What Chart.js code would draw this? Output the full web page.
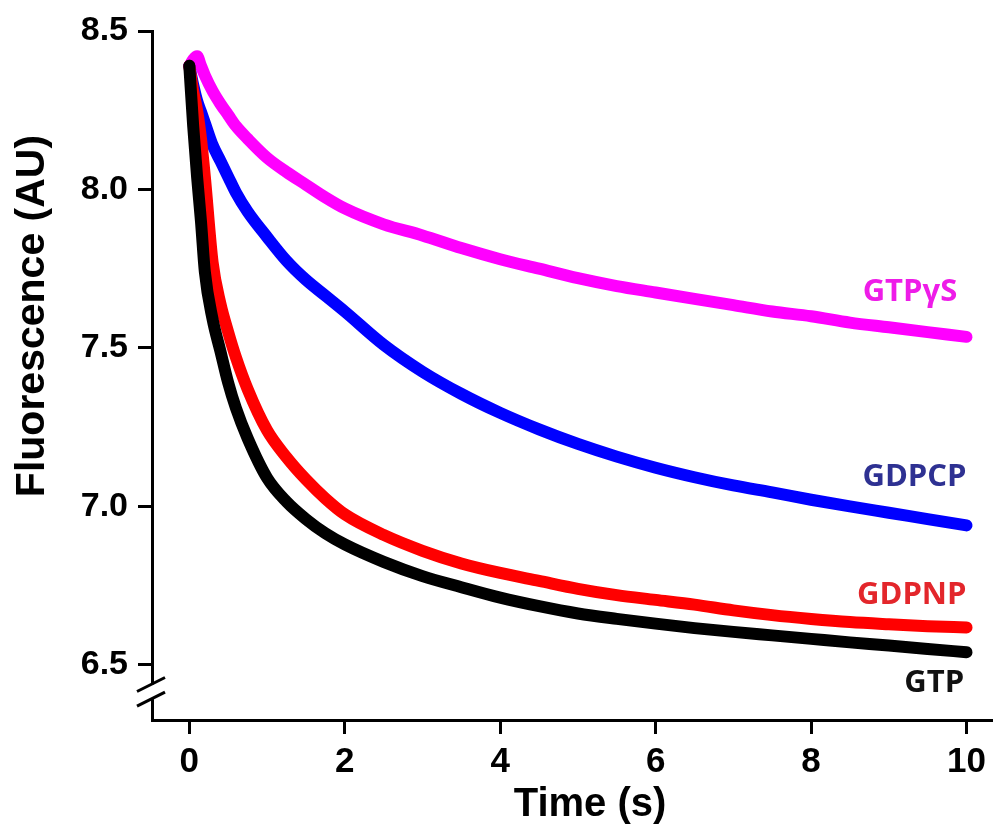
<!DOCTYPE html>
<html>
<head>
<meta charset="utf-8">
<script src="https://cdn.jsdelivr.net/npm/chart.js@4.4.0/dist/chart.umd.min.js"></script>
<style>
  body { margin: 0; background: #fff; }
  #wrap { width: 993px; height: 825px; }
</style>
</head>
<body>
<div id="wrap"><canvas id="kinetics" width="993" height="825"></canvas></div>
<script>
// time points (s)
const time = [0, 0.05, 0.1, 0.15, 0.2, 0.3, 0.4, 0.5, 0.6, 0.75, 1, 1.25, 1.5, 1.75, 2,
              2.5, 3, 3.5, 4, 4.5, 5, 5.5, 6, 6.5, 7, 7.5, 8, 8.5, 9, 9.5, 10];

// fluorescence (AU)
const gtpgs = [8.39, 8.41, 8.42, 8.39, 8.36, 8.31, 8.27, 8.235, 8.20, 8.16, 8.10, 8.055, 8.015, 7.975, 7.94,
               7.89, 7.855, 7.815, 7.78, 7.75, 7.72, 7.695, 7.675, 7.655, 7.635, 7.615, 7.60, 7.58, 7.565, 7.55, 7.535];
const gdpcp = [8.39, 8.33, 8.28, 8.245, 8.21, 8.14, 8.09, 8.04, 7.99, 7.93, 7.85, 7.775, 7.715, 7.665, 7.615,
               7.51, 7.425, 7.355, 7.295, 7.243, 7.197, 7.157, 7.122, 7.092, 7.066, 7.044, 7.021, 7.00, 6.98, 6.96, 6.94];
const gdpnp = [8.39, 8.31, 8.25, 8.16, 8.04, 7.77, 7.64, 7.55, 7.47, 7.37, 7.24, 7.155, 7.085, 7.025, 6.975,
               6.91, 6.86, 6.82, 6.79, 6.765, 6.74, 6.72, 6.705, 6.69, 6.672, 6.657, 6.645, 6.635, 6.628, 6.622, 6.618];
const gtp   = [8.39, 8.20, 8.04, 7.90, 7.74, 7.59, 7.49, 7.39, 7.31, 7.215, 7.09, 7.015, 6.96, 6.915, 6.88,
               6.825, 6.78, 6.745, 6.712, 6.685, 6.662, 6.645, 6.63, 6.616, 6.604, 6.593, 6.582, 6.571, 6.561, 6.55, 6.54];

const seriesNames  = ['GTPγS', 'GDPCP', 'GDPNP', 'GTP'];
const lineColors   = ['#ff00ff', '#0000ff', '#ff0000', '#000000'];
const labelColors  = ['#ee1ce8', '#2e3192', '#e3262b', '#111111'];
const labelY       = [7.676, 7.092, 6.719, 6.441];   // where the name sits (AU)
const labelX       = [9.88, 10.0, 10.0, 9.97];        // right edge of the name (s)

const xTicks = [0, 2, 4, 6, 8, 10];
const yTicks = [6.5, 7.0, 7.5, 8.0, 8.5];

const allSeries = [gtpgs, gdpcp, gdpnp, gtp];

const titleFont = '"Liberation Sans", Arial';

// names at the right end, the axis titles and the axis break
const extras = {
  id: 'extras',
  afterDraw(chart) {
    const ctx = chart.ctx;
    const xs = chart.scales.x, ys = chart.scales.y;
    ctx.save();
    ctx.font = 'bold 31px "Open Sans"';
    ctx.textAlign = 'right';
    ctx.textBaseline = 'middle';
    seriesNames.forEach((name, i) => {
      ctx.fillStyle = labelColors[i];
      ctx.fillText(name, xs.getPixelForValue(labelX[i]), ys.getPixelForValue(labelY[i]));
    });

    // axis titles
    ctx.fillStyle = '#000';
    ctx.textAlign = 'center';
    ctx.textBaseline = 'alphabetic';
    ctx.font = 'bold 40px ' + titleFont;
    ctx.fillText('Time (s)', 590, 816);
    ctx.save();
    ctx.translate(33, 316);
    ctx.rotate(-Math.PI / 2);
    ctx.textBaseline = 'middle';
    ctx.font = 'bold 41px ' + titleFont;
    ctx.fillText('Fluorescence (AU)', 0, 0);
    ctx.restore();

    // axis break on y
    const ax = xs.left;
    const yTop = ys.getPixelForValue(6.438);
    const yBot = ys.getPixelForValue(6.392);
    ctx.fillStyle = '#fff';
    ctx.fillRect(ax - 3, yTop, 6, yBot - yTop);
    ctx.strokeStyle = '#000';
    ctx.lineWidth = 3;
    [yTop, yBot].forEach(y => {
      ctx.beginPath();
      ctx.moveTo(ax - 15, y + 7);
      ctx.lineTo(ax + 13, y - 7);
      ctx.stroke();
    });
    ctx.restore();
  }
};

new Chart(document.getElementById('kinetics').getContext('2d'), {
  type: 'line',
  data: {
    datasets: allSeries.map((vals, i) => ({
      label: seriesNames[i],
      data: vals.map((v, j) => ({ x: time[j], y: v })),
      borderColor: lineColors[i],
      borderWidth: 12,
      pointRadius: 0,
      fill: false,
      cubicInterpolationMode: 'monotone',
      borderCapStyle: 'round',
      borderJoinStyle: 'round'
    })).reverse()
  },
  options: {
    responsive: false,
    animation: false,
    layout: { padding: { top: 31, right: 0, left: 0, bottom: 0 } },
    plugins: { legend: { display: false }, tooltip: { enabled: false } },
    scales: {
      x: {
        type: 'linear',
        min: -0.48,
        max: 10.33,
        afterBuildTicks: s => { s.ticks = xTicks.map(v => ({ value: v })); },
        afterFit: s => { s.height = 105; },
        grid: { drawOnChartArea: false, drawTicks: true, tickLength: 14, lineWidth: 3, color: '#000' },
        border: { display: true, width: 3, color: '#000' },
        ticks: { color: '#000', padding: 7, font: { family: titleFont, size: 35, weight: 'bold' } }
      },
      y: {
        type: 'linear',
        min: 6.326,
        max: 8.5,
        afterBuildTicks: s => { s.ticks = yTicks.map(v => ({ value: v })); },
        afterFit: s => { s.width = 152; },
        grid: { drawOnChartArea: false, drawTicks: true, tickLength: 14, lineWidth: 3, color: '#000' },
        border: { display: true, width: 3, color: '#000' },
        ticks: { color: '#000', padding: 10, callback: v => v.toFixed(1),
                 font: { family: titleFont, size: 34, weight: 'bold' } }
      }
    }
  },
  plugins: [extras]
});
</script>
</body>
</html>
